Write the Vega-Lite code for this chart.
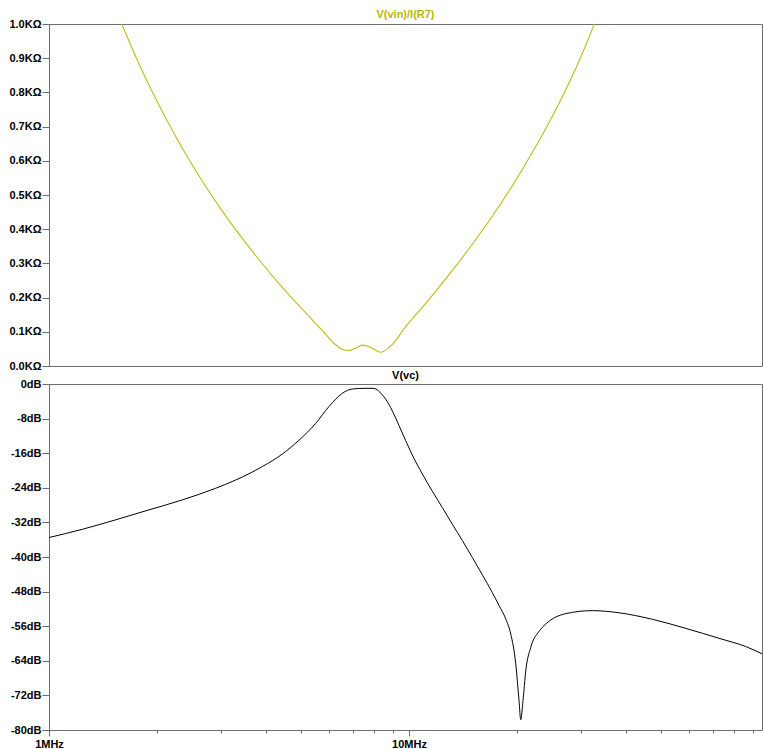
{
  "$schema": "https://vega.github.io/schema/vega-lite/v6.json",
  "background": "white",
  "padding": {"left": 8, "top": 8, "right": 1, "bottom": 0},
  "spacing": 18,
  "bounds": "flush",
  "config": {
    "view": {"stroke": "#6e6e6e", "strokeWidth": 1},
    "font": "Liberation Sans",
    "axis": {
      "labelFont": "Liberation Sans",
      "labelFontWeight": "bold",
      "labelFontSize": 11,
      "labelColor": "black",
      "domainColor": "#6e6e6e",
      "tickColor": "#6e6e6e",
      "grid": false,
      "title": null
    },
    "title": {"font": "Liberation Sans", "fontWeight": "bold", "fontSize": 11, "anchor": "middle", "baseline": "bottom"}
  },
  "datasets": {
    "z": [
      {"f": 1.45, "v": 1.10},
      {"f": 1.592, "v": 1.0},
      {"f": 1.778, "v": 0.883},
      {"f": 2.0, "v": 0.772},
      {"f": 2.225, "v": 0.680},
      {"f": 2.448, "v": 0.604},
      {"f": 2.725, "v": 0.525},
      {"f": 3.03, "v": 0.453},
      {"f": 3.443, "v": 0.373},
      {"f": 3.912, "v": 0.299},
      {"f": 4.446, "v": 0.230},
      {"f": 5.053, "v": 0.166},
      {"f": 5.743, "v": 0.104},
      {"f": 6.257, "v": 0.062},
      {"f": 6.5, "v": 0.050},
      {"f": 6.813, "v": 0.045},
      {"f": 7.1, "v": 0.052},
      {"f": 7.419, "v": 0.061},
      {"f": 7.7, "v": 0.057},
      {"f": 7.911, "v": 0.052},
      {"f": 8.346, "v": 0.040},
      {"f": 8.65, "v": 0.048},
      {"f": 8.987, "v": 0.063},
      {"f": 9.79, "v": 0.115},
      {"f": 11.13, "v": 0.183},
      {"f": 12.92, "v": 0.267},
      {"f": 14.99, "v": 0.356},
      {"f": 17.03, "v": 0.438},
      {"f": 19.36, "v": 0.527},
      {"f": 22.0, "v": 0.624},
      {"f": 24.49, "v": 0.712},
      {"f": 27.25, "v": 0.808},
      {"f": 30.3, "v": 0.914},
      {"f": 32.65, "v": 0.999},
      {"f": 35.0, "v": 1.09}
    ],
    "vc": [
      {"f": 1.0, "db": -35.5},
      {"f": 1.237, "db": -33.6},
      {"f": 1.532, "db": -31.4},
      {"f": 1.896, "db": -29.1},
      {"f": 2.346, "db": -26.8},
      {"f": 2.905, "db": -24.1},
      {"f": 3.301, "db": -22.2},
      {"f": 3.912, "db": -19.1},
      {"f": 4.446, "db": -16.2},
      {"f": 4.948, "db": -13.0},
      {"f": 5.506, "db": -9.1},
      {"f": 5.995, "db": -5.2},
      {"f": 6.527, "db": -2.15},
      {"f": 6.958, "db": -1.16},
      {"f": 7.5, "db": -1.0},
      {"f": 7.95, "db": -1.0},
      {"f": 8.15, "db": -1.3},
      {"f": 8.3, "db": -1.9},
      {"f": 8.614, "db": -3.5},
      {"f": 8.987, "db": -6.2},
      {"f": 9.38, "db": -9.6},
      {"f": 9.79, "db": -13.1},
      {"f": 10.21, "db": -16.4},
      {"f": 10.89, "db": -20.8},
      {"f": 11.61, "db": -24.8},
      {"f": 12.38, "db": -28.6},
      {"f": 13.19, "db": -32.4},
      {"f": 14.07, "db": -36.2},
      {"f": 14.99, "db": -40.1},
      {"f": 15.98, "db": -44.1},
      {"f": 17.03, "db": -48.2},
      {"f": 17.78, "db": -51.2},
      {"f": 18.56, "db": -54.3},
      {"f": 19.17, "db": -57.8},
      {"f": 19.79, "db": -64.7},
      {"f": 20.21, "db": -73.2},
      {"f": 20.43, "db": -77.6},
      {"f": 20.73, "db": -73.2},
      {"f": 21.10, "db": -66.3},
      {"f": 21.78, "db": -60.9},
      {"f": 22.97, "db": -57.2},
      {"f": 23.98, "db": -55.5},
      {"f": 27.25, "db": -53.1},
      {"f": 32.3, "db": -52.4},
      {"f": 38.31, "db": -52.9},
      {"f": 47.41, "db": -54.4},
      {"f": 58.69, "db": -56.5},
      {"f": 72.62, "db": -58.8},
      {"f": 86.14, "db": -60.7},
      {"f": 95.8, "db": -62.4}
    ]
  },
  "vconcat": [
    {
      "width": 713,
      "height": 342,
      "title": {"text": "V(vin)/I(R7)", "color": "#b8b800", "offset": -2},
      "data": {"name": "z"},
      "mark": {"type": "line", "color": "#bcbc1a", "strokeWidth": 1.1, "clip": true, "interpolate": "monotone"},
      "encoding": {
        "x": {"field": "f", "type": "quantitative", "scale": {"type": "log", "domain": [1, 95.6], "nice": false}, "axis": null},
        "y": {"field": "v", "type": "quantitative", "scale": {"domain": [0, 1], "nice": false},
          "axis": {"values": [0, 0.1, 0.2, 0.3, 0.4, 0.5, 0.6, 0.7, 0.8, 0.9, 1.0], "tickSize": 7, "labelPadding": 1,
            "labelExpr": "format(datum.value, '.1f') + 'KΩ'"}}
      }
    },
    {
      "width": 713,
      "height": 346,
      "title": {"text": "V(vc)", "color": "black", "offset": -3},
      "data": {"name": "vc"},
      "mark": {"type": "line", "color": "black", "strokeWidth": 1, "clip": true, "interpolate": "monotone"},
      "encoding": {
        "x": {"field": "f", "type": "quantitative", "scale": {"type": "log", "domain": [1, 95.6], "nice": false},
          "axis": {"values": [1, 2, 3, 4, 5, 6, 7, 8, 9, 10, 20, 30, 40, 50, 60, 70, 80, 90],
            "labelExpr": "datum.value == 1 ? '1MHz' : datum.value == 10 ? '10MHz' : ''",
            "tickSize": {"condition": {"test": "datum.value == 1 || datum.value == 10", "value": 6}, "value": 3},
            "labelPadding": 2, "labelFlush": false, "labelOverlap": false}},
        "y": {"field": "db", "type": "quantitative", "scale": {"domain": [-80, 0], "nice": false},
          "axis": {"values": [0, -8, -16, -24, -32, -40, -48, -56, -64, -72, -80], "tickSize": 7, "labelPadding": 1,
            "labelExpr": "datum.value + 'dB'"}}
      }
    }
  ]
}
